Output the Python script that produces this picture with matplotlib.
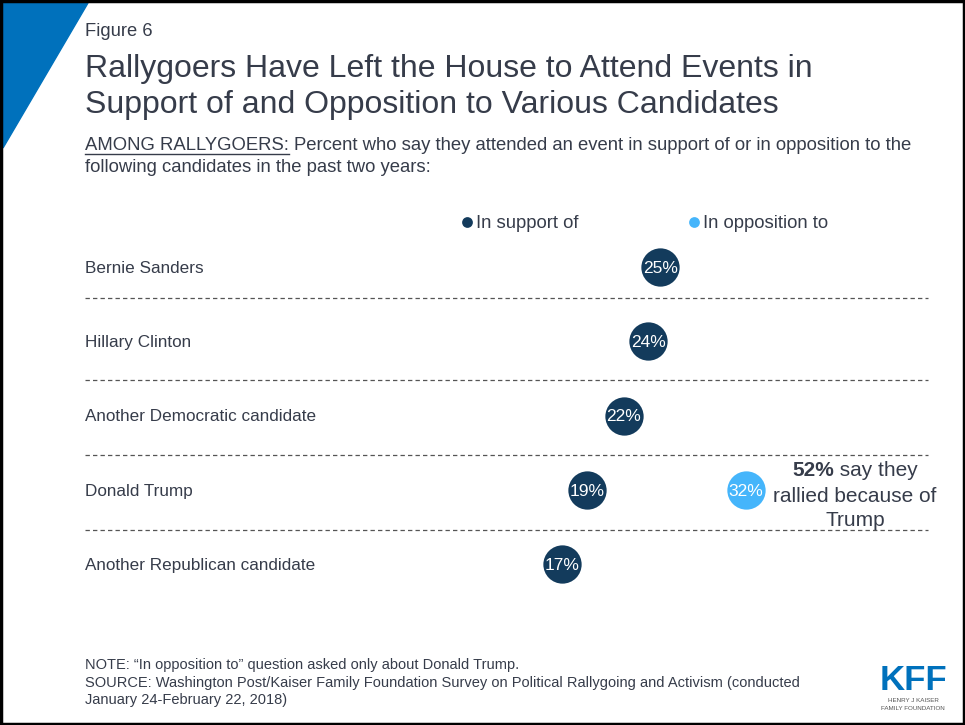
import matplotlib
matplotlib.use("Agg")
import matplotlib.pyplot as plt
from matplotlib.patches import Polygon, Rectangle
from matplotlib.lines import Line2D

plt.rcParams['font.family'] = ['Liberation Sans', 'DejaVu Sans']

# data
candidates = ["Bernie Sanders", "Hillary Clinton", "Another Democratic candidate",
              "Donald Trump", "Another Republican candidate"]
support = [25, 24, 22, 19, 17]
opposition = [None, None, None, 32, None]
trump_total = 52

DARK = "#133b5c"
LIGHT = "#45b5fb"
TXT = "#363c4a"
W, H = 965, 725

fig = plt.figure(figsize=(W / 100, H / 100), dpi=100)

def px(x, y):
    return x / W, 1 - y / H

# chart axes over the whole figure, x in percent, y in rows
ax = fig.add_axes([0, 0, 1, 1])
ax.set_xlim(-354 / 12.25, (W - 354) / 12.25)
ax.set_ylim((H - 267) / 74.25, -267 / 74.25)
ax.axis("off")

rows = list(range(len(candidates)))
ax.scatter(support, rows, s=760, color=DARK, zorder=3, linewidths=0)
for r, v in zip(rows, support):
    ax.text(v, r + 0.02, f"{v}%", color="white", fontsize=12.5, ha="center", va="center", zorder=4)
for r, v in zip(rows, opposition):
    if v is None:
        continue
    ax.scatter([v], [r], s=760, color=LIGHT, zorder=3, linewidths=0)
    ax.text(v, r + 0.02, f"{v}%", color="white", fontsize=12.5, ha="center", va="center", zorder=4)

# dashed separators between rows
for ypix in [298, 380, 455, 530]:
    fig.lines.append(Line2D([85 / W, 928 / W], [1 - ypix / H] * 2, transform=fig.transFigure,
                            color="#555555", lw=0.9, ls=(0, (3.5, 2.5)), zorder=1))

for r, name in zip(rows, candidates):
    ax.text(-354 / 12.25 + 85 / 12.25, r + 0.02, name, fontsize=12.3, color=TXT,
            va="center", ha="left")

# header
fig.patches.append(Polygon([px(3, 3), px(88, 3), px(3, 148)], closed=True,
                           transform=fig.transFigure, color="#0071bc", zorder=0))
fig.text(*px(85, 32), "Figure 6", fontsize=13.2, color=TXT, va="center")
fig.text(*px(85, 69), "Rallygoers Have Left the House to Attend Events in",
         fontsize=23, color=TXT, va="center")
fig.text(*px(85, 105), "Support of and Opposition to Various Candidates",
         fontsize=23, color=TXT, va="center")

fig.text(*px(85, 146), "AMONG RALLYGOERS: Percent who say they attended an event in support of or in opposition to the",
         fontsize=13.3, color=TXT, va="center")
fig.text(*px(85, 168), "following candidates in the past two years:", fontsize=13.3, color=TXT, va="center")

fig.canvas.draw()
rend = fig.canvas.get_renderer()
probe = fig.text(*px(85, 146), "AMONG RALLYGOERS:", fontsize=13.3, va="center")
bb = probe.get_window_extent(rend)
probe.remove()
fig.lines.append(Line2D([bb.x0 / W, bb.x1 / W], [1 - 154 / H] * 2, transform=fig.transFigure,
                        color=TXT, lw=1.0))

# legend
ax.scatter([(467 - 354) / 12.25], [(222 - 267) / 74.25], s=60, color=DARK, linewidths=0)
fig.text(*px(476, 223), "In support of", fontsize=13.3, color=TXT, va="center")
ax.scatter([(694 - 354) / 12.25], [(222 - 267) / 74.25], s=60, color=LIGHT, linewidths=0)
fig.text(*px(703, 223), "In opposition to", fontsize=13.3, color=TXT, va="center")

# annotation next to Trump
p1 = fig.text(0, 0, f"{trump_total}%", fontsize=15, fontweight="bold", color=TXT)
p2 = fig.text(0, 0, " say they", fontsize=15, color=TXT)
w1 = p1.get_window_extent(rend).width
w2 = p2.get_window_extent(rend).width
x0 = 855 - (w1 + w2) / 2
p1.set_position(px(x0, 471)); p1.set_va("center")
p2.set_position(px(x0 + w1, 471)); p2.set_va("center")
fig.text(*px(855, 496), "rallied because of", fontsize=15, color=TXT, ha="center", va="center")
fig.text(*px(855, 521), "Trump", fontsize=15, color=TXT, ha="center", va="center")

# notes
fig.text(*px(85, 665), "NOTE: \u201cIn opposition to\u201d question asked only about Donald Trump.",
         fontsize=10.5, color=TXT, va="center")
fig.text(*px(85, 683), "SOURCE: Washington Post/Kaiser Family Foundation Survey on Political Rallygoing and Activism (conducted",
         fontsize=10.5, color=TXT, va="center")
fig.text(*px(85, 700), "January 24-February 22, 2018)", fontsize=10.5, color=TXT, va="center")

# logo
fig.text(*px(913, 681), "KFF", fontsize=25, fontweight="bold", color="#0071bc",
         ha="center", va="center")
fig.text(*px(913, 701), "HENRY J KAISER", fontsize=4.5, color="#555555", ha="center", va="center")
fig.text(*px(913, 708), "FAMILY FOUNDATION", fontsize=4.5, color="#555555", ha="center", va="center")

# frame
fig.patches.append(Rectangle((0.0015, 0.002), 0.997, 0.996, transform=fig.transFigure,
                             fill=False, edgecolor="black", lw=2.5))

fig.savefig("out.png", dpi=100)
